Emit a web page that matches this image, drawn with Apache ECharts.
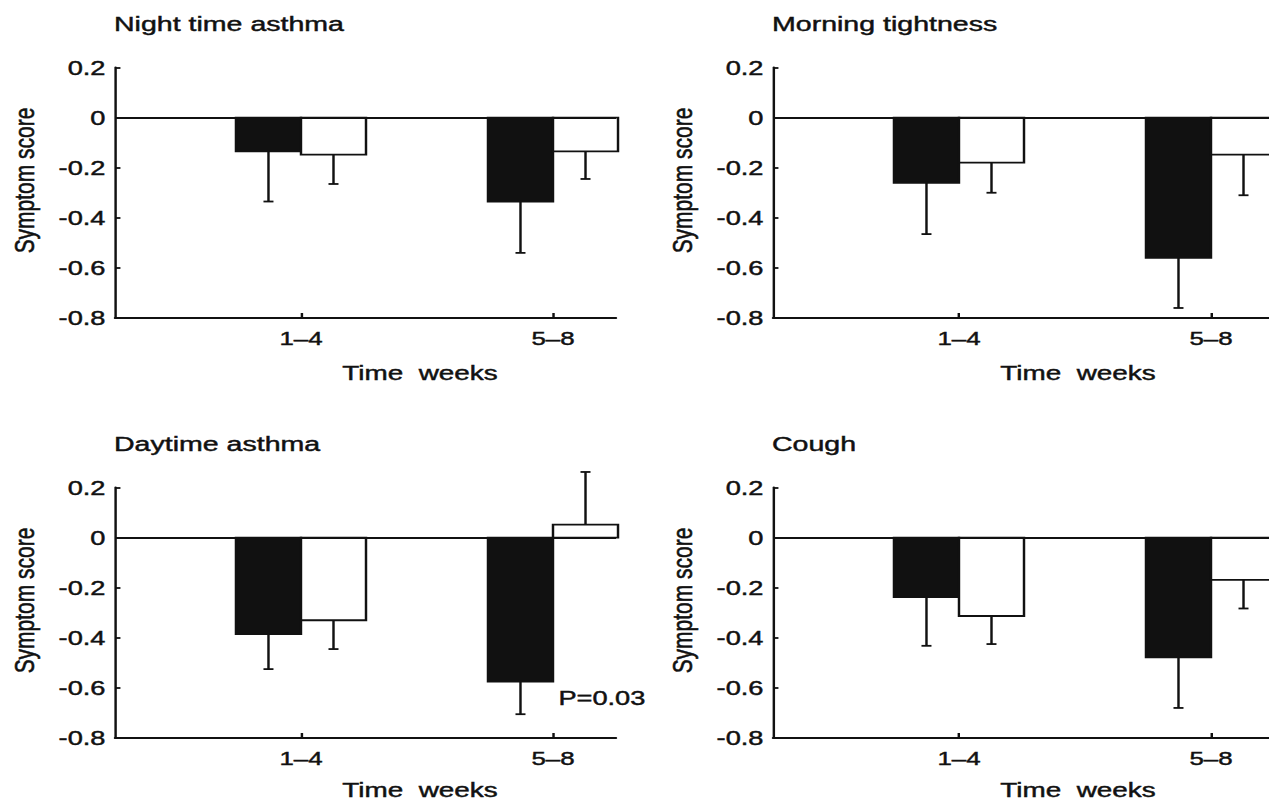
<!DOCTYPE html>
<html>
<head>
<meta charset="utf-8">
<script src="https://cdn.jsdelivr.net/npm/echarts@6/dist/echarts.min.js"></script>
<style>
  html, body { margin: 0; padding: 0; background: #ffffff; width: 1269px; height: 802px; overflow: hidden; }
  #c { position: absolute; left: 0; top: 0; width: 960px; height: 802px; transform: scaleX(1.36); transform-origin: 0 0; }
</style>
</head>
<body>
<div id="c"></div>
<script>
// ---------- data ----------
const categories = ['1–4', '5–8'];
const catPos = [1, 2];
const panelTitles = ['Night time asthma', 'Morning tightness', 'Daytime asthma', 'Cough'];
const yAxisName = 'Symptom score';
const xAxisName = 'Time  weeks';
const yMin = -0.8, yMax = 0.2, yStep = 0.2;

// bar means and the end of each one-sided error bar
const nightBlack = [-0.135, -0.335];
const nightBlackErr = [-0.335, -0.54];
const nightWhite = [-0.148, -0.135];
const nightWhiteErr = [-0.265, -0.245];

const morningBlack = [-0.26, -0.56];
const morningBlackErr = [-0.465, -0.76];
const morningWhite = [-0.18, -0.148];
const morningWhiteErr = [-0.30, -0.31];

const dayBlack = [-0.385, -0.575];
const dayBlackErr = [-0.525, -0.705];
const dayWhite = [-0.33, 0.052];
const dayWhiteErr = [-0.445, 0.262];

const coughBlack = [-0.238, -0.478];
const coughBlackErr = [-0.432, -0.68];
const coughWhite = [-0.313, -0.169];
const coughWhiteErr = [-0.425, -0.283];

const pNote = 'P=0.03';
const pNotePos = [2.02, -0.64];

// ---------- layout ----------
const S = 1.36;                 // horizontal stretch of the page
const FONT = "'Liberation Sans', Arial, Helvetica, sans-serif";
const INK = '#111111';
const TB = 0.45;                // text stroke to thicken glyphs
const LW = 1.8;
const xMin = 0.262, xMax = 2.25;
const barW = 0.258;             // bar width in x units
const capPx = 10 / S;
const panels = [
  { left: 115, top: 67.5 },
  { left: 773, top: 67.5 },
  { left: 115, top: 487.5 },
  { left: 773, top: 487.5 }
];
const gridW = 501, gridH = 250.5;

const blackSets = [[nightBlack, nightBlackErr], [morningBlack, morningBlackErr], [dayBlack, dayBlackErr], [coughBlack, coughBlackErr]];
const whiteSets = [[nightWhite, nightWhiteErr], [morningWhite, morningWhiteErr], [dayWhite, dayWhiteErr], [coughWhite, coughWhiteErr]];

function makeRender(side, fillColor) {
  return function (params, api) {
    const x = api.value(0), v = api.value(1), e = api.value(2);
    const xl = side < 0 ? x - barW : x;
    const xr = side < 0 ? x : x + barW;
    const pl = api.coord([xl, 0]);
    const pr = api.coord([xr, 0]);
    const pv = api.coord([x, v]);
    const pe = api.coord([x, e]);
    const y0 = pl[1];
    const xc = (pl[0] + pr[0]) / 2;
    const top = Math.min(y0, pv[1]);
    const h = Math.abs(pv[1] - y0);
    return {
      type: 'group',
      children: [
        { type: 'line', shape: { x1: xc, y1: pv[1], x2: xc, y2: pe[1] }, style: { stroke: INK, lineWidth: LW } },
        { type: 'line', shape: { x1: xc - capPx / 2, y1: pe[1], x2: xc + capPx / 2, y2: pe[1] }, style: { stroke: INK, lineWidth: LW } },
        { type: 'rect', shape: { x: pl[0], y: top, width: pr[0] - pl[0], height: h }, style: { fill: fillColor, stroke: INK, lineWidth: LW } }
      ]
    };
  };
}

function txt(text, size, x, y, align, rotation) {
  return {
    type: 'text', x: x, y: y, rotation: rotation || 0, silent: true,
    style: { text: text, font: size + 'px ' + FONT, fill: INK, stroke: INK, lineWidth: TB,
      align: align, verticalAlign: 'middle', textAlign: align, textVerticalAlign: 'middle' }
  };
}

const grid = [], xAxis = [], yAxis = [], series = [], graphic = [];
panels.forEach((p, i) => {
  grid.push({ left: p.left / S, top: p.top, width: gridW / S, height: gridH, containLabel: false, outerBoundsMode: 'none' });
  xAxis.push({
    gridIndex: i, type: 'value', min: xMin, max: xMax,
    axisLine: { show: true, onZero: false, lineStyle: { color: INK, width: LW } },
    axisTick: { show: true, inside: true, length: 5, customValues: catPos, lineStyle: { color: INK, width: LW } },
    axisLabel: { show: true, customValues: catPos, margin: 11, color: INK, fontSize: 19, fontFamily: FONT,
      textBorderColor: INK, textBorderWidth: TB,
      formatter: v => categories[catPos.indexOf(Math.round(v))] },
    splitLine: { show: false }
  });
  yAxis.push({
    gridIndex: i, type: 'value', min: yMin, max: yMax, interval: yStep,
    axisLine: { show: true, onZero: false, lineStyle: { color: INK, width: LW } },
    axisTick: { show: true, inside: true, length: 4, lineStyle: { color: INK, width: LW } },
    axisLabel: { show: true, margin: 7, color: INK, fontSize: 20, fontFamily: FONT,
      textBorderColor: INK, textBorderWidth: TB,
      formatter: v => String(Math.round(v * 10) / 10) },
    splitLine: { show: false }
  });
  const b = blackSets[i], w = whiteSets[i];
  series.push({
    type: 'custom', xAxisIndex: i, yAxisIndex: i, clip: false,
    renderItem: makeRender(-1, INK),
    encode: { x: 0, y: [1, 2] },
    data: catPos.map((c, k) => [c, b[0][k], b[1][k]]),
    markLine: {
      silent: true, symbol: ['none', 'none'], label: { show: false },
      lineStyle: { color: INK, width: LW, type: 'solid' },
      emphasis: { disabled: true },
      data: [{ yAxis: 0 }]
    },
    z: 3
  });
  series.push({
    type: 'custom', xAxisIndex: i, yAxisIndex: i, clip: false,
    renderItem: makeRender(1, '#ffffff'),
    encode: { x: 0, y: [1, 2] },
    data: catPos.map((c, k) => [c, w[0][k], w[1][k]]),
    z: 3
  });

  graphic.push(txt(panelTitles[i], 21, (p.left - 1) / S, p.top - 44.5, 'left'));
  graphic.push(txt(yAxisName, 21, (p.left - 91) / S, p.top + 113, 'center', Math.PI / 2));
  graphic.push(txt(xAxisName, 20.5, (p.left + 305) / S, Math.min(p.top + 305.5, 790), 'center'));
});

// P value note in the "Daytime asthma" panel
series.push({
  type: 'scatter', xAxisIndex: 2, yAxisIndex: 2,
  data: [pNotePos], symbolSize: 0.5, itemStyle: { color: '#ffffff', opacity: 1 },
  label: { show: true, position: 'right', distance: 0, formatter: pNote, color: INK, fontSize: 20, fontFamily: FONT,
    textBorderColor: INK, textBorderWidth: TB },
  emphasis: { disabled: true },
  silent: true, z: 4
});

const chart = echarts.init(document.getElementById('c'), null, { renderer: 'svg' });
chart.setOption({
  backgroundColor: '#ffffff',
  animation: false,
  grid, xAxis, yAxis, series, graphic
});
</script>
</body>
</html>
